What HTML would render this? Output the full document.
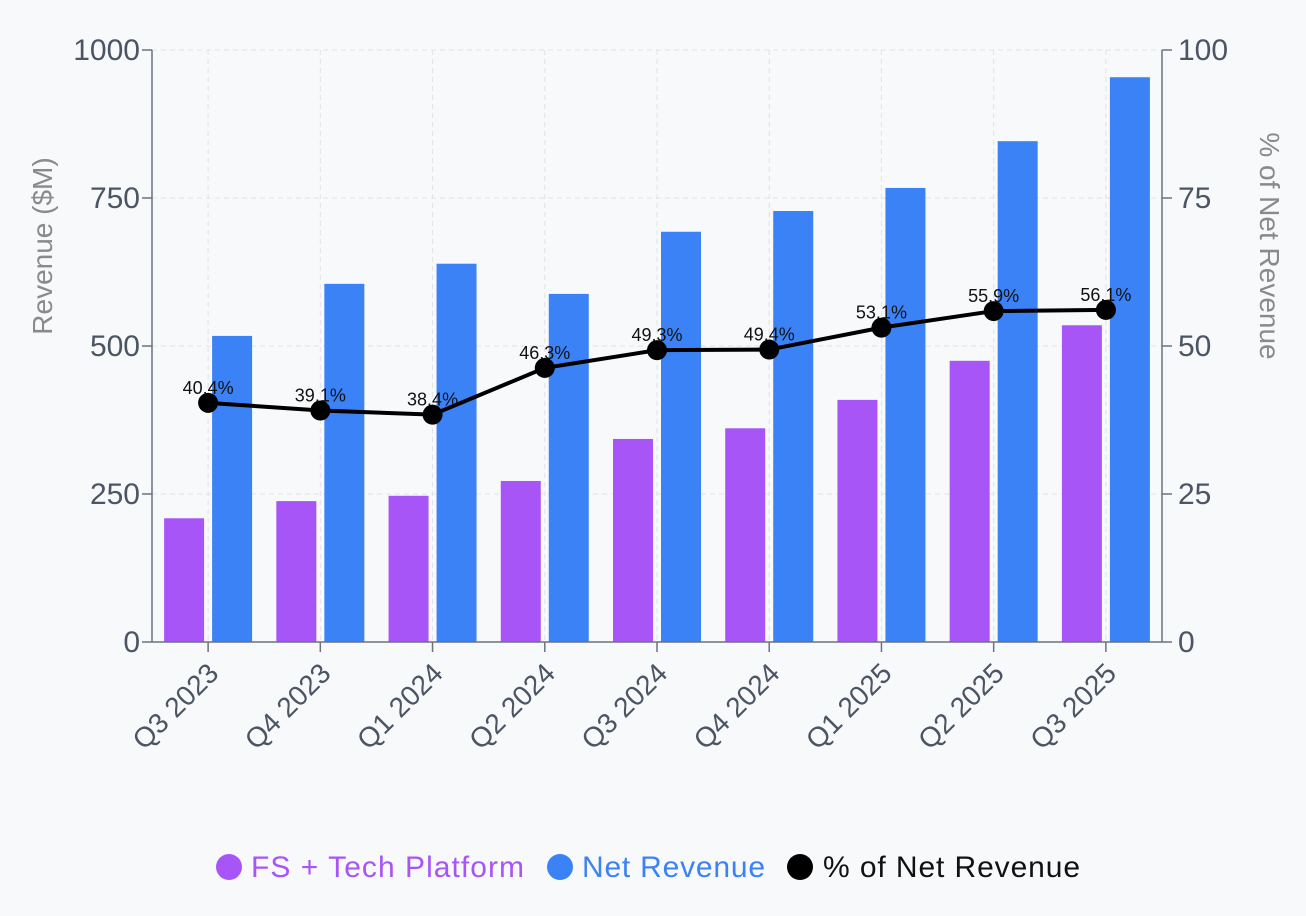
<!DOCTYPE html>
<html><head><meta charset="utf-8"><style>
html,body{margin:0;padding:0;background:#f8f9fb;}
svg{display:block;font-family:"Liberation Sans",sans-serif;}
</style></head><body>
<svg id="chart" width="1306" height="916">
<rect width="1306" height="916" fill="#f8f9fb"/>
<g id="grid"></g><g id="bars"></g><g id="axes"></g><g id="line"></g>
<text transform="translate(52,246) rotate(-90)" text-anchor="middle" font-size="28" fill="#8a8a8a">Revenue ($M)</text>
<text transform="translate(1260,246) rotate(90)" text-anchor="middle" font-size="28" fill="#8a8a8a">% of Net Revenue</text>
<g>
<g><circle cx="229" cy="867" r="13" fill="#a855f7"/><text x="251" y="877" font-size="30" fill="#a855f7" textLength="273">FS + Tech Platform</text></g>
<g><circle cx="560" cy="867" r="13" fill="#3b82f6"/><text x="582" y="877" font-size="30" fill="#3b82f6" textLength="183">Net Revenue</text></g>
<g><circle cx="800" cy="867" r="13" fill="#000"/><text x="823" y="877" font-size="30" fill="#111" textLength="257">% of Net Revenue</text></g>
</g>
</svg>
<script>
const categories=["Q3 2023","Q4 2023","Q1 2024","Q2 2024","Q3 2024","Q4 2024","Q1 2025","Q2 2025","Q3 2025"];
const fsTech=[209,238,247,272,343,361,409,475,535];
const netRevenue=[517,605,639,588,693,728,767,846,954];
const pctNet=[40.4,39.1,38.4,46.3,49.3,49.4,53.1,55.9,56.1];
const leftTicks=[0,250,500,750,1000];
const rightTicks=[0,25,50,75,100];
const NS="http://www.w3.org/2000/svg";
const X0=152,X1=1162,Y0=642,Y1=50;
const band=(X1-X0)/categories.length;
const xC=i=>X0+band*(i+0.5);
const yL=v=>Y0-(v/1000)*(Y0-Y1);
const yR=v=>Y0-(v/100)*(Y0-Y1);
function mk(tag,attrs,parent){const e=document.createElementNS(NS,tag);for(const k in attrs)e.setAttribute(k,attrs[k]);document.getElementById(parent).appendChild(e);return e;}
leftTicks.forEach(t=>{const g=mk('line',{x1:X0,x2:X1,y1:yL(t),y2:yL(t),stroke:'#e2e2e2','stroke-dasharray':'5,4'},'grid');

});
categories.forEach((c,i)=>{const g=mk('line',{x1:xC(i),x2:xC(i),y1:Y1,y2:Y0,stroke:'#e2e2e2','stroke-dasharray':'5,4'},'grid');

});
categories.forEach((c,i)=>{
const a=mk('rect',{x:xC(i)-44,y:yL(fsTech[i]),width:40,height:Y0-yL(fsTech[i]),fill:'#a855f7'},'bars');


const b=mk('rect',{x:xC(i)+4,y:yL(netRevenue[i]),width:40,height:Y0-yL(netRevenue[i]),fill:'#3b82f6'},'bars');


});
[[X0,'left'],[X1,'right']].forEach(([x,n])=>{const l=mk('line',{x1:x,x2:x,y1:Y1,y2:Y0,stroke:'#6b7280','stroke-width':1.5},'axes');

});
const xl=mk('line',{x1:X0,x2:X1,y1:Y0,y2:Y0,stroke:'#6b7280','stroke-width':1.5},'axes');


leftTicks.forEach(t=>{mk('line',{x1:X0-10,x2:X0,y1:yL(t),y2:yL(t),stroke:'#6b7280','stroke-width':1.5},'axes');
const tx=mk('text',{x:X0-12,y:yL(t)+10,'text-anchor':'end','font-size':30,fill:'#4b5563'},'axes');tx.textContent=t;

});
rightTicks.forEach(t=>{mk('line',{x1:X1,x2:X1+10,y1:yR(t),y2:yR(t),stroke:'#6b7280','stroke-width':1.5},'axes');
const tx=mk('text',{x:X1+16,y:yR(t)+10,'font-size':30,fill:'#4b5563'},'axes');tx.textContent=t;

});
categories.forEach((c,i)=>{mk('line',{x1:xC(i),x2:xC(i),y1:Y0,y2:Y0+10,stroke:'#6b7280','stroke-width':1.5},'axes');
const tx=mk('text',{x:xC(i)+12,y:Y0+33,'text-anchor':'end','font-size':28,fill:'#4b5563',transform:`rotate(-45 ${xC(i)+12} ${Y0+33})`},'axes');tx.textContent=c;

});
const pl=mk('polyline',{points:pctNet.map((v,i)=>xC(i)+','+yR(v)).join(' '),fill:'none',stroke:'#000','stroke-width':4},'line');


pctNet.forEach((v,i)=>{const c=mk('circle',{cx:xC(i),cy:yR(v),r:10,fill:'#000'},'line');


const t=mk('text',{x:xC(i),y:yR(v)-9,'text-anchor':'middle','font-size':18,fill:'#111'},'line');t.textContent=v.toFixed(1)+'%';

});
</script>
</body></html>
